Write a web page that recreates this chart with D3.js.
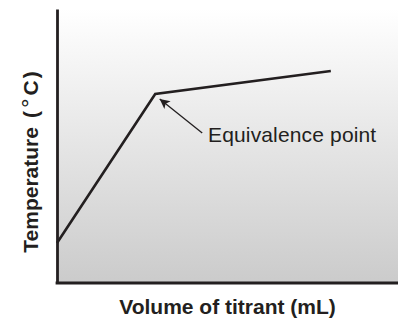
<!DOCTYPE html>
<html>
<head>
<meta charset="utf-8">
<script src="https://cdn.jsdelivr.net/npm/d3@7"></script>
<style>
  html, body { margin: 0; padding: 0; background: #fff; }
  svg { display: block; }
</style>
</head>
<body>
<svg id="chart" width="404" height="321"></svg>
<script>
// Thermometric titration curve: temperature rises until the equivalence point, then levels off
const volume = [0, 2.88, 8.03];
const temperature = [1.46, 6.9, 7.74];
const xLabel = "Volume of titrant (mL)";
const yLabelWord = "Temperature";
const yLabelUnit = ["(", "°", "C", ")"];
const annotation = "Equivalence point";

const svg = d3.select("#chart");
const plotLeft = 57, plotRight = 398, plotTop = 9, plotBottom = 283;
const ink = "#231f20";
const font = "Liberation Sans, Arial, Helvetica, sans-serif";

const x = d3.scaleLinear().domain([0, 10]).range([plotLeft, plotRight]);
const y = d3.scaleLinear().domain([0, 10]).range([plotBottom, plotTop]);

const defs = svg.append("defs");
const grad = defs.append("linearGradient")
  .attr("id", "bg").attr("x1", 0).attr("y1", 0).attr("x2", 0).attr("y2", 1);
grad.append("stop").attr("offset", "0%").attr("stop-color", "#ffffff");
grad.append("stop").attr("offset", "100%").attr("stop-color", "#cbcbcb");

defs.append("marker")
  .attr("id", "arrow")
  .attr("viewBox", "0 0 10 10")
  .attr("refX", 10).attr("refY", 5)
  .attr("markerWidth", 13).attr("markerHeight", 10)
  .attr("markerUnits", "userSpaceOnUse")
  .attr("orient", "auto")
  .append("path")
  .attr("d", "M0,0 L10,5 L0,10 L2.5,5 Z")
  .attr("fill", ink);

svg.append("rect")
  .attr("x", plotLeft).attr("y", plotTop)
  .attr("width", plotRight - plotLeft).attr("height", plotBottom - plotTop)
  .attr("fill", "url(#bg)");

const pts = volume.map((v, i) => [v, temperature[i]]);
svg.append("path")
  .datum(pts)
  .attr("d", d3.line().x(d => x(d[0])).y(d => y(d[1])))
  .attr("fill", "none")
  .attr("stroke", ink)
  .attr("stroke-width", 2.6)
  .attr("stroke-linejoin", "miter");

// Axes drawn as plain lines, no ticks
const xAxis = d3.axisBottom(x).tickValues([]).tickSizeOuter(0);
const yAxis = d3.axisLeft(y).tickValues([]).tickSizeOuter(0);
const gx = svg.append("g").attr("transform", `translate(0,${plotBottom})`).call(xAxis);
const gy = svg.append("g").attr("transform", `translate(${plotLeft},0)`).call(yAxis);
[gx, gy].forEach(g => g.select(".domain")
  .attr("stroke", ink).attr("stroke-width", 2.8));
gx.select(".domain").attr("d", `M${plotLeft - 1.4},0H${plotRight}`);

// Annotation arrow pointing to the equivalence point
const eq = pts[1];
svg.append("line")
  .attr("x1", x(eq[0]) + 47).attr("y1", y(eq[1]) + 39)
  .attr("x2", x(eq[0]) + 4.5).attr("y2", y(eq[1]) + 5)
  .attr("stroke", ink)
  .attr("stroke-width", 1.3)
  .attr("marker-end", "url(#arrow)");

svg.append("text")
  .attr("x", 208).attr("y", 142)
  .attr("font-family", font)
  .attr("font-size", 21)
  .attr("letter-spacing", 0.15)
  .attr("fill", ink)
  .text(annotation);

svg.append("text")
  .attr("x", (plotLeft + plotRight) / 2).attr("y", 314)
  .attr("text-anchor", "middle")
  .attr("font-family", font)
  .attr("font-weight", "bold")
  .attr("font-size", 21)
  .attr("fill", ink)
  .text(xLabel);

const yText = svg.append("text")
  .attr("transform", `translate(38,162) rotate(-90)`)
  .attr("text-anchor", "middle")
  .attr("font-family", font)
  .attr("font-weight", "bold")
  .attr("font-size", 21)
  .attr("fill", ink);
yText.append("tspan").text(yLabelWord);
const unitGaps = [9, 3, 3, 2];
yLabelUnit.forEach((s, i) => {
  yText.append("tspan")
    .attr("dx", unitGaps[i])
    .attr("font-weight", s === "°" ? "normal" : "bold")
    .attr("font-size", s === "°" ? 24 : 21)
    .text(s);
});
</script>
</body>
</html>
